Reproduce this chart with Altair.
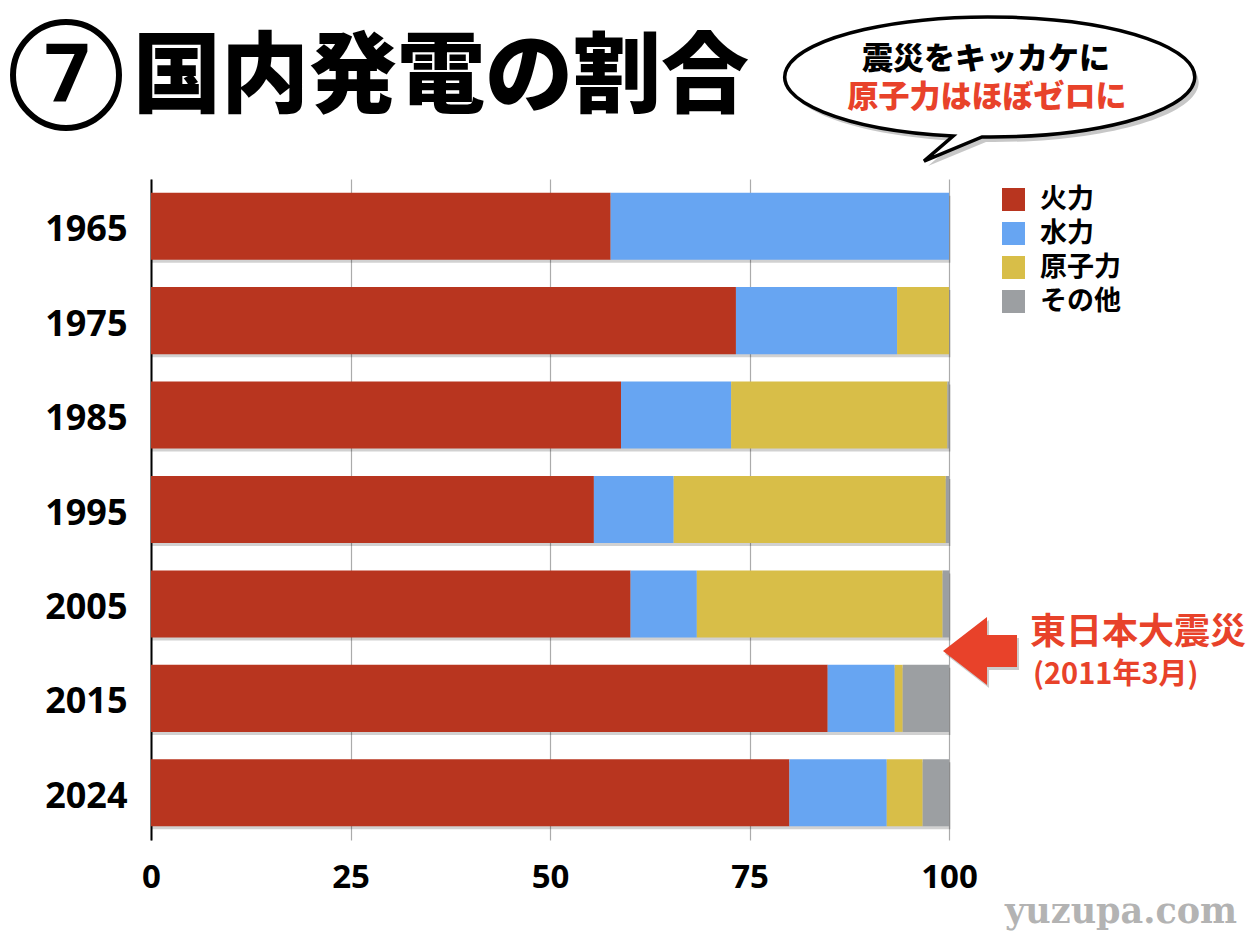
import altair as alt
import pandas as pd

years = ["1965", "1975", "1985", "1995", "2005", "2015", "2024"]
sources = ["火力", "水力", "原子力", "その他"]
colors = ["#B8351F", "#67A5F2", "#D8BE48", "#9C9FA2"]
thermal = [57.6, 73.3, 58.9, 55.5, 60.1, 84.8, 80.0]
hydro = [42.4, 20.2, 13.8, 10.0, 8.3, 8.4, 12.2]
nuclear = [0.0, 6.5, 27.1, 34.1, 30.8, 1.0, 4.5]
other = [0.0, 0.0, 0.2, 0.4, 0.8, 5.8, 3.3]
x_ticks = [0, 25, 50, 75, 100]

rows = []
for i, y in enumerate(years):
    for k, (s, vals) in enumerate(zip(sources, [thermal, hydro, nuclear, other])):
        rows.append({"year": y, "source": s, "value": vals[i], "idx": k})
df = pd.DataFrame(rows)

JP = "Noto Sans CJK JP"
RED = "#E8422A"

y_enc = alt.Y(
    "year:N", sort=years,
    scale=alt.Scale(paddingInner=0.29, paddingOuter=0.145),
    axis=alt.Axis(title=None, labelFont="Open Sans", labelFontSize=36, labelFontWeight="bold",
                  labelColor="black", ticks=False, tickSize=0, labelPadding=24, labelOffset=4,
                  domainColor="black", domainWidth=2, grid=False),
)
x_axis = alt.Axis(values=x_ticks, title=None, grid=True, gridColor="#ababab", gridWidth=1.2,
                  domain=False, ticks=False, tickSize=0, labelFont="Open Sans", labelFontSize=33,
                  labelFontWeight="bold", labelColor="black", labelPadding=21, labelFlush=False)
x_scale = alt.Scale(domain=[0, 100], nice=False)

shadow = alt.Chart(df).mark_bar(color="#000000", opacity=0.18, xOffset=1.5, yOffset=3).encode(
    y=y_enc, x=alt.X("sum(value):Q", scale=x_scale, axis=x_axis)
)

bars = alt.Chart(df).mark_bar().encode(
    y=y_enc,
    x=alt.X("value:Q", stack="zero", scale=x_scale, axis=x_axis),
    color=alt.Color("source:N", scale=alt.Scale(domain=sources, range=colors),
                    legend=alt.Legend(orient="none", legendX=849, legendY=7, title=None,
                                      symbolType="square", symbolSize=529, symbolStrokeWidth=0,
                                      symbolOpacity=1, labelFont=JP, labelFontSize=27,
                                      labelFontWeight="bold", labelColor="black", labelOffset=13,
                                      rowPadding=6, padding=0)),
    order=alt.Order("idx:Q"),
)

one = pd.DataFrame({"a": [0]})


def txt(text, x, y, size, color="black", align="left", font=JP, weight="bold"):
    return alt.Chart(one).mark_text(text=text, align=align, baseline="middle", fontSize=size,
                                    font=font, fontWeight=weight, color=color).encode(
        x=alt.value(x), y=alt.value(y))


def shape(path, x, y, size, **kw):
    return alt.Chart(one).mark_point(shape=path, size=size, **kw).encode(x=alt.value(x), y=alt.value(y))


# title
circle = shape("circle", -85, -104, 11236, filled=False, stroke="black", strokeWidth=6, opacity=1)
seven = txt("7", -84, -102, 80, font="Open Sans", align="center")
title = txt("国内発電の割合", -18, -100, 88, weight=900)

# speech bubble
bubble_path = "M -0.039 0.2925 A 1 0.2927 0 1 0 -0.18 0.288 L -0.322 0.41 Z"
bubble_shadow = shape(bubble_path, 843, -97, 168100, filled=True, fill="#000000", opacity=0.22,
                      strokeWidth=0)
bubble = shape(bubble_path, 839, -102, 168100, filled=True, fill="white", stroke="black",
               strokeWidth=3.5, opacity=1)
b1 = txt("震災をキッカケに", 835, -119, 31, align="center", weight=900)
b2 = txt("原子力はほぼゼロに", 836, -81, 31, color=RED, align="center", weight=900)

# arrow + note
arrow_path = "M -1 0 L 0.19 -0.92 L 0.19 -0.43 L 1 -0.43 L 1 0.43 L 0.19 0.43 L 0.19 0.92 Z"
arrow_shadow = shape(arrow_path, 831, 475, 5476, filled=True, fill="#000000", opacity=0.2, strokeWidth=0)
arrow = shape(arrow_path, 829, 472, 5476, filled=True, fill=RED, opacity=1, strokeWidth=0)
n1 = txt("東日本大震災", 879, 454, 36, color=RED)
n2 = txt("(2011年3月)", 882, 496, 29, color=RED)

watermark = txt("yuzupa.com", 854, 733, 35, color="#b3b3b3", font="DejaVu Serif")

chart = alt.layer(
    shadow, bars, circle, seven, title, bubble_shadow, bubble, b1, b2,
    arrow_shadow, arrow, n1, n2, watermark
).properties(
    width=798, height=661,
    autosize=alt.AutoSizeParams(type="none"),
    padding={"left": 143, "top": 171, "right": 300, "bottom": 92},
).configure_view(stroke=None)

chart.save("out.html", embed_options={"renderer": "svg", "actions": False})
